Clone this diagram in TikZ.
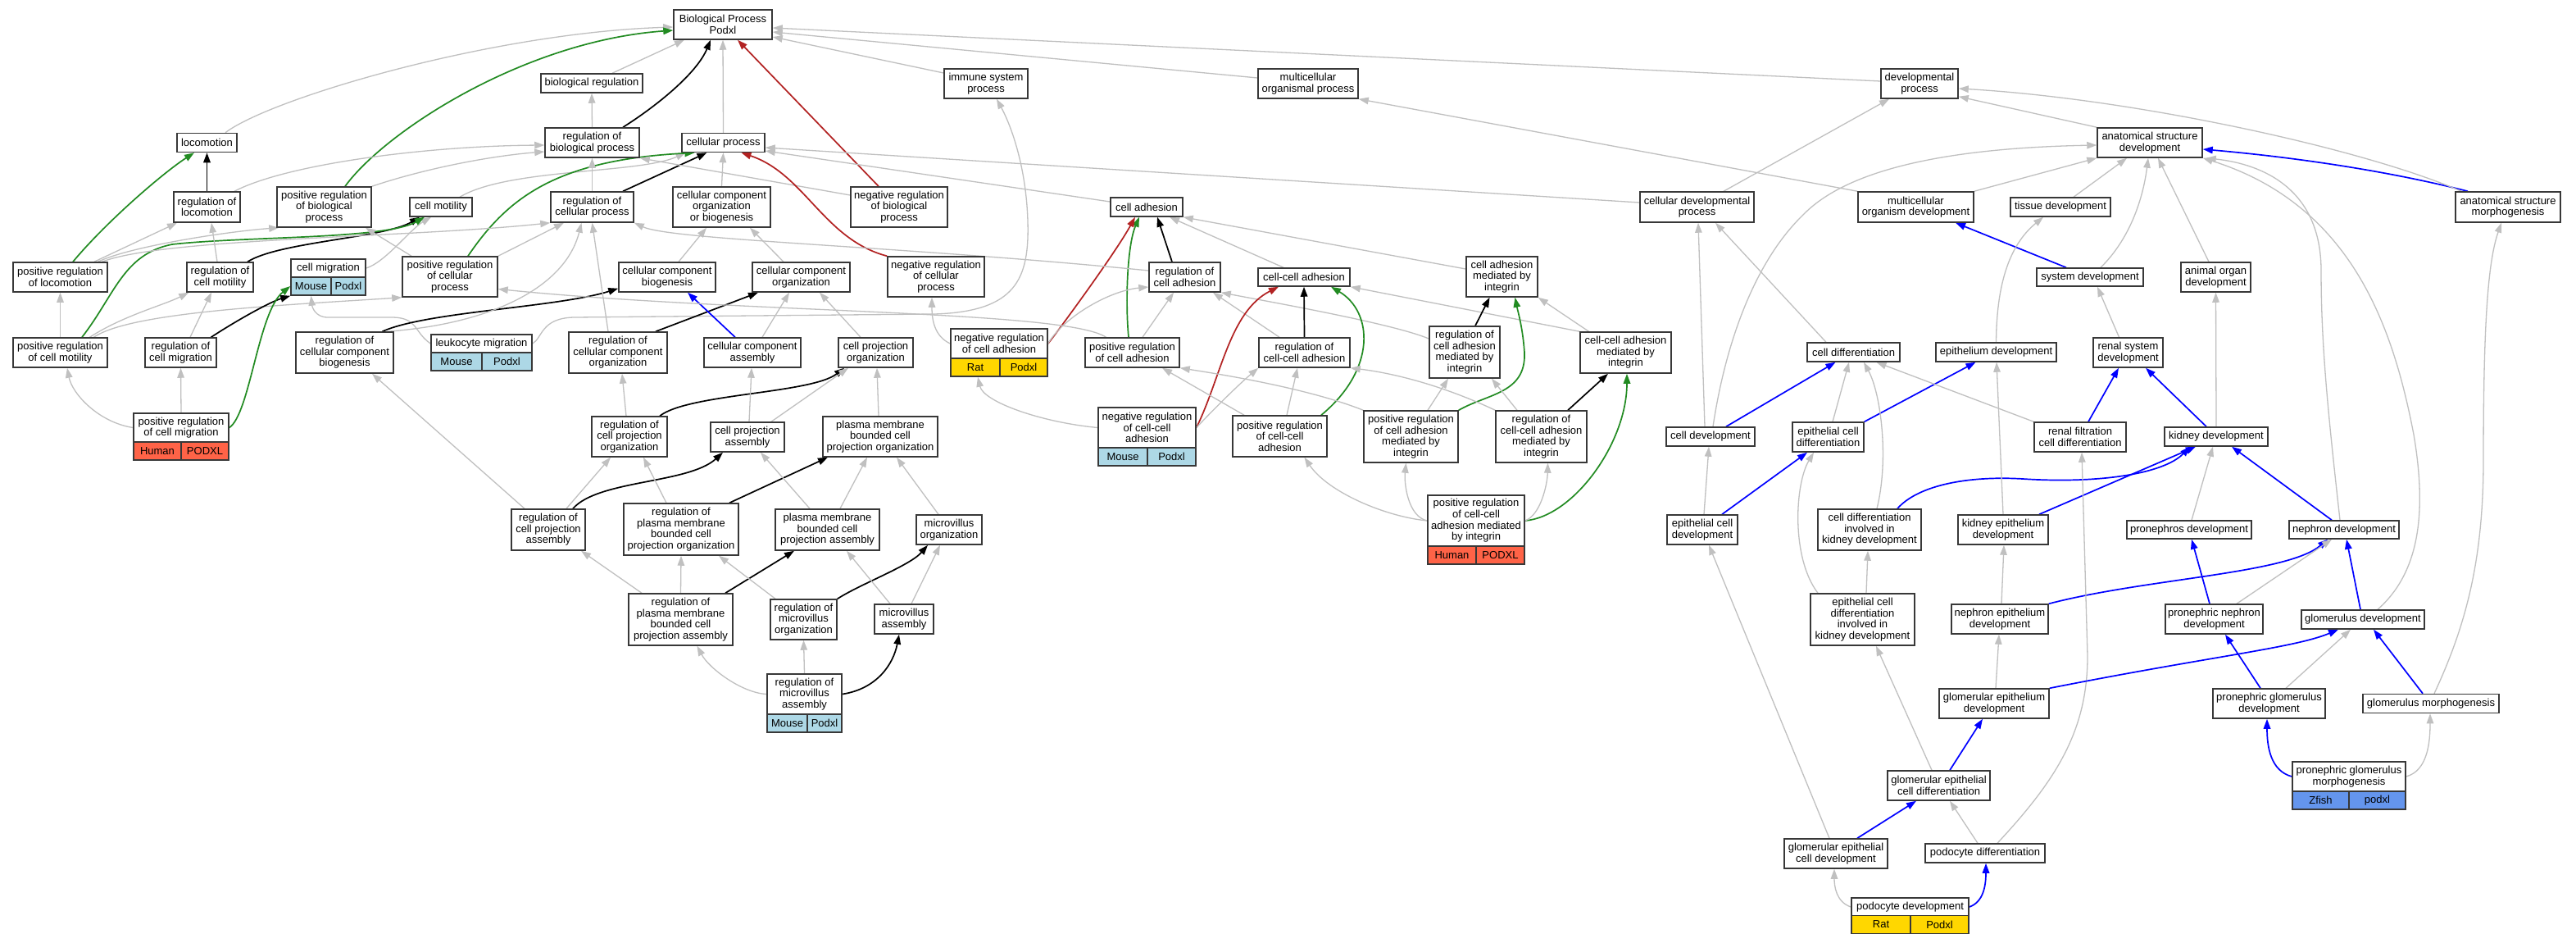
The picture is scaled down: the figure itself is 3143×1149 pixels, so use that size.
\documentclass[tikz,border=0pt]{standalone}
\usepackage{fontspec}
\setmainfont{Liberation Sans}
\usetikzlibrary{arrows.meta,backgrounds}
\newcommand{\gofont}{\fontsize{13pt}{13.6pt}\selectfont}
\definecolor{lg}{RGB}{192,192,192}
\definecolor{fg}{RGB}{34,139,34}
\definecolor{fr}{RGB}{178,34,34}
\definecolor{mouse}{RGB}{173,216,230}
\definecolor{rat}{RGB}{255,215,0}
\definecolor{human}{RGB}{255,99,71}
\definecolor{zfish}{RGB}{100,149,237}
\tikzset{
 box/.style={draw=black!78, line width=1.5pt, fill=white, align=center, inner sep=0pt, font=\gofont},
 sp/.style={box, minimum height=22pt},
 tipa/.style={-{Triangle[length=12pt,width=8.5pt]}},
 ga/.style={draw=lg, line width=1.3pt, tipa},
 ka/.style={draw=black, line width=1.7pt, tipa},
 gn/.style={draw=fg, line width=1.7pt, tipa},
 rd/.style={draw=fr, line width=1.7pt, tipa},
 bu/.style={draw=blue, line width=1.7pt, tipa}
}
\begin{document}
\begin{tikzpicture}[x=1pt,y=-1pt]
\useasboundingbox (0,0) rectangle (3143,1149);
% ---------- nodes ----------
\node[box,minimum width=120pt,minimum height=36pt] (BP) at (882,30) {Biological Process\\Podxl};
\node[box,minimum width=124pt,minimum height=23pt] (bioreg) at (722,101.5) {biological regulation};
\node[box,minimum width=102pt,minimum height=36pt] (immune) at (1203,102) {immune system\\process};
\node[box,minimum width=122pt,minimum height=36pt] (mcop) at (1596,102) {multicellular\\organismal process};
\node[box,minimum width=94pt,minimum height=36pt] (devproc) at (2342,102) {developmental\\process};
\node[box,minimum width=73pt,minimum height=23pt] (loco) at (252.5,174) {locomotion};
\node[box,minimum width=115pt,minimum height=36pt] (regbp) at (722.5,174) {regulation of\\biological process};
\node[box,minimum width=101pt,minimum height=23pt] (cellproc) at (882.5,174) {cellular process};
\node[box,minimum width=128pt,minimum height=36pt] (asd) at (2623,174) {anatomical structure\\development};
\node[box,minimum width=81pt,minimum height=37pt] (regloco) at (252.5,252.5) {regulation of\\locomotion};
\node[box,minimum width=115pt,minimum height=49pt] (posregbp) at (395.5,252.5) {positive regulation\\of biological\\process};
\node[box,minimum width=76pt,minimum height=23pt] (cellmot) at (538,252.5) {cell motility};
\node[box,minimum width=101pt,minimum height=37pt] (regcp) at (722.5,252.5) {regulation of\\cellular process};
\node[box,minimum width=119pt,minimum height=49pt] (ccob) at (880.5,252.5) {cellular component\\organization\\or biogenesis};
\node[box,minimum width=118pt,minimum height=49pt] (negregbp) at (1097,252.5) {negative regulation\\of biological\\process};
\node[box,minimum width=88pt,minimum height=23pt] (celladh) at (1399,252.5) {cell adhesion};
\node[box,minimum width=139pt,minimum height=37pt] (cdp) at (2070.5,252.5) {cellular developmental\\process};
\node[box,minimum width=141pt,minimum height=37pt] (mod) at (2337.5,252.5) {multicellular\\organism development};
\node[box,minimum width=122pt,minimum height=23pt] (tissue) at (2514,252.5) {tissue development};
\node[box,minimum width=128pt,minimum height=37pt] (asm) at (3060,252.5) {anatomical structure\\morphogenesis};
\node[box,minimum width=115pt,minimum height=36pt] (posregloco) at (73.5,338) {positive regulation\\of locomotion};
\node[box,minimum width=81pt,minimum height=36pt] (regcellmot) at (268.5,338) {regulation of\\cell motility};
\node[box,minimum width=91pt,minimum height=22pt] (cellmig) at (400.5,327) {cell migration};
\node[sp,fill=mouse,minimum width=49pt] (cellmig-a) at (379.5,349) {Mouse};
\node[sp,fill=mouse,minimum width=42pt] (cellmig-b) at (425,349) {Podxl};
\node[box,minimum width=116pt,minimum height=49pt] (posregcp) at (549,337.5) {positive regulation\\of cellular\\process};
\node[box,minimum width=118pt,minimum height=36pt] (ccb) at (814,338) {cellular component\\biogenesis};
\node[box,minimum width=119pt,minimum height=36pt] (cco) at (977.5,338) {cellular component\\organization};
\node[box,minimum width=118pt,minimum height=49pt] (negregcp) at (1142,337.5) {negative regulation\\of cellular\\process};
\node[box,minimum width=87pt,minimum height=36pt] (regcelladh) at (1445.5,338) {regulation of\\cell adhesion};
\node[box,minimum width=112pt,minimum height=22pt] (ccadh) at (1591,338) {cell-cell adhesion};
\node[box,minimum width=87pt,minimum height=49pt] (camint) at (1832.5,337.5) {cell adhesion\\mediated by\\integrin};
\node[box,minimum width=130pt,minimum height=22pt] (sysdev) at (2550,338) {system development};
\node[box,minimum width=85pt,minimum height=36pt] (aod) at (2703.5,338) {animal organ\\development};
\node[box,minimum width=115pt,minimum height=36pt] (posregcellmot) at (73.5,430) {positive regulation\\of cell motility};
\node[box,minimum width=87pt,minimum height=36pt] (regcellmig) at (220.5,430) {regulation of\\cell migration};
\node[box,minimum width=119pt,minimum height=50pt] (regccb) at (420.5,430) {regulation of\\cellular component\\biogenesis};
\node[box,minimum width=123pt,minimum height=22pt] (leuk) at (587.5,419) {leukocyte migration};
\node[sp,fill=mouse,minimum width=62pt] (leuk-a) at (557,441) {Mouse};
\node[sp,fill=mouse,minimum width=61pt] (leuk-b) at (618.5,441) {Podxl};
\node[box,minimum width=120pt,minimum height=50pt] (regcco) at (754,430) {regulation of\\cellular component\\organization};
\node[box,minimum width=118pt,minimum height=36pt] (cca) at (918,430) {cellular component\\assembly};
\node[box,minimum width=91pt,minimum height=36pt] (cpo) at (1068.5,430) {cell projection\\organization};
\node[box,minimum width=118pt,minimum height=36pt] (negregcelladh) at (1219,419) {negative regulation\\of cell adhesion};
\node[sp,fill=rat,minimum width=60pt] (negregcelladh-a) at (1190,448) {Rat};
\node[sp,fill=rat,minimum width=58pt] (negregcelladh-b) at (1249,448) {Podxl};
\node[box,minimum width=115pt,minimum height=36pt] (posregcelladh) at (1381.5,430) {positive regulation\\of cell adhesion};
\node[box,minimum width=111pt,minimum height=36pt] (regccadh) at (1591.5,430) {regulation of\\cell-cell adhesion};
\node[box,minimum width=86pt,minimum height=63pt] (regcamint) at (1787,429.5) {regulation of\\cell adhesion\\mediated by\\integrin};
\node[box,minimum width=111pt,minimum height=50pt] (ccamint) at (1983.5,430) {cell-cell adhesion\\mediated by\\integrin};
\node[box,minimum width=113pt,minimum height=23pt] (celldiff) at (2261.5,429.5) {cell differentiation};
\node[box,minimum width=147pt,minimum height=23pt] (epidev) at (2435.5,429.5) {epithelium development};
\node[box,minimum width=85pt,minimum height=36pt] (renalsys) at (2596.5,430) {renal system\\development};
\node[box,minimum width=116pt,minimum height=35pt] (posregcellmig) at (221,521.5) {positive regulation\\of cell migration};
\node[sp,fill=human,minimum width=58pt] (posregcellmig-a) at (192,550) {Human};
\node[sp,fill=human,minimum width=58pt] (posregcellmig-b) at (250,550) {PODXL};
\node[box,minimum width=92pt,minimum height=49pt] (regcpo) at (768,532.5) {regulation of\\cell projection\\organization};
\node[box,minimum width=90pt,minimum height=36pt] (cpa) at (912,533) {cell projection\\assembly};
\node[box,minimum width=140pt,minimum height=49pt] (pmbcpo) at (1074,532.5) {plasma membrane\\bounded cell\\projection organization};
\node[box,minimum width=119pt,minimum height=49pt] (negregccadh) at (1399.5,521.5) {negative regulation\\of cell-cell\\adhesion};
\node[sp,fill=mouse,minimum width=60pt] (negregccadh-a) at (1370,557) {Mouse};
\node[sp,fill=mouse,minimum width=59pt] (negregccadh-b) at (1429.5,557) {Podxl};
\node[box,minimum width=115pt,minimum height=50pt] (posregccadh) at (1561.5,532) {positive regulation\\of cell-cell\\adhesion};
\node[box,minimum width=115pt,minimum height=63pt] (posregcamint) at (1721.5,532.5) {positive regulation\\of cell adhesion\\mediated by\\integrin};
\node[box,minimum width=111pt,minimum height=63pt] (regccamint) at (1880.5,532.5) {regulation of\\cell-cell adhesion\\mediated by\\integrin};
\node[box,minimum width=108pt,minimum height=23pt] (celldev) at (2087,532.5) {cell development};
\node[box,minimum width=87pt,minimum height=36pt] (epicelldiff) at (2230.5,533) {epithelial cell\\differentiation};
\node[box,minimum width=112pt,minimum height=36pt] (renalfilt) at (2538,533) {renal filtration\\cell differentiation};
\node[box,minimum width=126pt,minimum height=23pt] (kidney) at (2704,532.5) {kidney development};
\node[box,minimum width=90pt,minimum height=50pt] (regcpa) at (669,646) {regulation of\\cell projection\\assembly};
\node[box,minimum width=140pt,minimum height=63pt] (regpmbcpo) at (831,645.5) {regulation of\\plasma membrane\\bounded cell\\projection organization};
\node[box,minimum width=127pt,minimum height=50pt] (pmbcpa) at (1009.5,646) {plasma membrane\\bounded cell\\projection assembly};
\node[box,minimum width=80pt,minimum height=36pt] (mvo) at (1158,646) {microvillus\\organization};
\node[box,minimum width=118pt,minimum height=62pt] (posregccamint) at (1801,635) {positive regulation\\of cell-cell\\adhesion mediated\\by integrin};
\node[sp,fill=human,minimum width=59pt] (posregccamint-a) at (1771.5,677) {Human};
\node[sp,fill=human,minimum width=59pt] (posregccamint-b) at (1830.5,677) {PODXL};
\node[box,minimum width=86pt,minimum height=36pt] (epicelldev) at (2077,646) {epithelial cell\\development};
\node[box,minimum width=126pt,minimum height=50pt] (celldiffkid) at (2281,646) {cell differentiation\\involved in\\kidney development};
\node[box,minimum width=110pt,minimum height=36pt] (kidepi) at (2444,646) {kidney epithelium\\development};
\node[box,minimum width=152pt,minimum height=22pt] (proneph) at (2671,646) {pronephros development};
\node[box,minimum width=134pt,minimum height=22pt] (nephron) at (2860,646) {nephron development};
\node[box,minimum width=127pt,minimum height=63pt] (regpmbcpa) at (830.5,755.5) {regulation of\\plasma membrane\\bounded cell\\projection assembly};
\node[box,minimum width=81pt,minimum height=49pt] (regmvo) at (980.5,755.5) {regulation of\\microvillus\\organization};
\node[box,minimum width=72pt,minimum height=36pt] (mva) at (1103,755) {microvillus\\assembly};
\node[box,minimum width=127pt,minimum height=63pt] (epidiffkid) at (2272.5,755.5) {epithelial cell\\differentiation\\involved in\\kidney development};
\node[box,minimum width=118pt,minimum height=36pt] (nephepi) at (2440,755) {nephron epithelium\\development};
\node[box,minimum width=119pt,minimum height=36pt] (pronephnephron) at (2701.5,755) {pronephric nephron\\development};
\node[box,minimum width=150pt,minimum height=23pt] (glomdev) at (2883,755.5) {glomerulus development};
\node[box,minimum width=91pt,minimum height=49pt] (regmva) at (981.5,846.5) {regulation of\\microvillus\\assembly};
\node[sp,fill=mouse,minimum width=49pt] (regmva-a) at (960.5,882) {Mouse};
\node[sp,fill=mouse,minimum width=42pt] (regmva-b) at (1006,882) {Podxl};
\node[box,minimum width=134pt,minimum height=36pt] (glomepi) at (2433,858) {glomerular epithelium\\development};
\node[box,minimum width=137pt,minimum height=36pt] (pronglom) at (2768.5,858) {pronephric glomerulus\\development};
\node[box,minimum width=166pt,minimum height=23pt] (glommorph) at (2966,858) {glomerulus morphogenesis};
\node[box,minimum width=125pt,minimum height=36pt] (glomepicelldiff) at (2365.5,958) {glomerular epithelial\\cell differentiation};
\node[box,minimum width=138pt,minimum height=36pt] (pronglommorph) at (2866,947) {pronephric glomerulus\\morphogenesis};
\node[sp,fill=zfish,minimum width=69pt] (pronglommorph-a) at (2831.5,976) {Zfish};
\node[sp,fill=zfish,minimum width=69pt] (pronglommorph-b) at (2900.5,976) {podxl};
\node[box,minimum width=126pt,minimum height=36pt] (glomepicelldev) at (2240,1041) {glomerular epithelial\\cell development};
\node[box,minimum width=146pt,minimum height=23pt] (pododiff) at (2422,1040.5) {podocyte differentiation};
\node[box,minimum width=143pt,minimum height=22pt] (pododev) at (2330.5,1106) {podocyte development};
\node[sp,fill=rat,minimum width=72pt] (pododev-a) at (2295,1127.5) {Rat};
\node[sp,fill=rat,minimum width=71pt] (pododev-b) at (2366.5,1127.5) {Podxl};
% ---------- edges ----------
\begin{pgfonlayer}{background}
\fill[white] (0,0) rectangle (3143,1149);
% top
\draw[ga] ([xshift=22.5pt]loco.north) .. controls (330,120) and (600,40) .. ([yshift=-3pt]BP.west);
\draw[gn] ([xshift=25.5pt]posregbp.north) .. controls (470,160) and (640,50) .. ([yshift=-7pt]BP.west);
\draw[ga] ([xshift=25pt]bioreg.north) -- ([xshift=-47pt]BP.south);
\draw[ka] ([xshift=37.5pt]regbp.north) .. controls (800,130) and (850,90) .. ([xshift=-15pt]BP.south);
\draw[ga] (cellproc.north) -- (BP.south);
\draw[rd] ([xshift=-25pt]negregbp.north) -- ([xshift=18pt]BP.south);
\draw[ga] ([yshift=13pt]immune.west) -- ([yshift=-15pt]BP.east);
\draw[ga] ([yshift=7pt]mcop.west) -- ([yshift=-9pt]BP.east);
\draw[ga] ([yshift=3pt]devproc.west) -- ([yshift=-4pt]BP.east);
\draw[ga] (regbp.north) -- (bioreg.south);
\draw[ka] (regloco.north) -- (loco.south);
\draw[gn] ([xshift=15.5pt]posregloco.north) .. controls (130,270) and (200,210) .. ([xshift=-15.5pt]loco.south);
\draw[ga] ([xshift=33.5pt]regloco.north) .. controls (350,200) and (520,178) .. ([yshift=-3pt]regbp.west);
\draw[ga] (posregbp.north east) .. controls (520,205) and (600,190) .. ([yshift=-11pt]regbp.west);
\draw[ga] ([xshift=23pt]cellmot.north) .. controls (620,205) and (780,212) .. ([xshift=-46pt]cellproc.south);
\draw[gn] ([xshift=22pt]posregcp.north) .. controls (620,240) and (680,195) .. ([xshift=-35pt]cellproc.south);
\draw[ka] ([xshift=37.5pt]regcp.north) -- ([xshift=-20pt]cellproc.south);
\draw[ga] (regcp.north) -- (regbp.south);
\draw[ga] ([yshift=14.5pt]negregbp.west) -- (regbp.south east);
\draw[ga] (ccob.north) -- (cellproc.south);
\draw[rd] (negregcp.north west) .. controls (1005,292) and (982,212) .. ([xshift=22pt]cellproc.south);
\draw[ga] ([yshift=6.5pt]celladh.west) -- ([yshift=-10pt]cellproc.east);
\draw[ga] ([yshift=5.5pt]cdp.west) -- ([yshift=-6pt]cellproc.east);
% left block
\draw[ga] (cellmig.east) .. controls (470,320) and (500,280) .. ([xshift=-12pt]cellmot.south);
\draw[ka] ([xshift=33.5pt]regcellmot.north) .. controls (340,295) and (470,290) .. ([xshift=-26pt]cellmot.south);
\draw[gn] ([xshift=26.5pt]posregcellmot.north) .. controls (140,360) and (150,310) .. (210,298) .. controls (300,288) and (470,292) .. ([xshift=-20pt]cellmot.south);
\draw[ga] ([xshift=41.5pt]posregloco.north) -- ([xshift=-36.5pt]regloco.south);
\draw[ga] ([xshift=46pt]posregloco.north) .. controls (160,300) and (280,282) .. ([xshift=3pt]posregbp.south west);
\draw[ga] ([xshift=51pt]posregloco.north) .. controls (200,290) and (500,290) .. (regcp.south west);
\draw[ga] ([xshift=-3.5pt]regcellmot.north) -- ([xshift=5.5pt]regloco.south);
\draw[ga] ([xshift=-47pt]posregcp.north) -- ([xshift=50.5pt]posregbp.south);
\draw[ga] (posregcp.north east) -- ([xshift=-34.5pt]regcp.south);
\draw[ga] (posregcellmot.north) -- (posregloco.south);
\draw[ga] ([xshift=36pt]posregcellmot.north) .. controls (150,385) and (200,372) .. ([xshift=3pt]regcellmot.south west);
\draw[ga] ([xshift=41pt]posregcellmot.north) .. controls (160,380) and (350,372) .. (posregcp.south west);
\draw[ga] ([xshift=11.5pt]regcellmig.north) -- ([xshift=-10.5pt]regcellmot.south);
\draw[ka] ([xshift=37pt]regcellmig.north) .. controls (290,390) and (330,368) .. (cellmig-a.south west);
\draw[ga] (posregcellmig.west) .. controls (120,515) and (88,480) .. ([xshift=8.5pt]posregcellmot.south);
\draw[ga] (posregcellmig.north) -- (regcellmig.south);
\draw[gn] (posregcellmig.east) .. controls (305,505) and (315,380) .. (cellmig-a.west);
\draw[ga] (leuk.west) .. controls (505,405) and (510,388) .. (480,387) -- (400,387) .. controls (385,387) and (381,375) .. (cellmig-a.south);
\draw[ga] (leuk.east) .. controls (662,412) and (660,388) .. (700,387) -- (1140,383) .. controls (1240,380) and (1256,340) .. (1254,270) .. controls (1252,200) and (1232,150) .. ([xshift=13pt]immune.south);
% cellular component block
\draw[ka] ([xshift=46pt]regccb.north) .. controls (520,380) and (680,375) .. ([yshift=5pt]ccb.south west);
\draw[ga] ([xshift=52pt]regccb.north) .. controls (600,395) and (690,350) .. ([xshift=-13pt]regcp.south);
\draw[ga] ([xshift=-12pt]regcco.north) -- (regcp.south);
\draw[ka] ([xshift=46pt]regcco.north) -- ([xshift=-52.5pt]cco.south);
\draw[ga] ([xshift=14pt]ccb.north) -- ([xshift=-18.5pt]ccob.south);
\draw[ga] ([xshift=-21.5pt]cco.north) -- ([xshift=34.5pt]ccob.south);
\draw[bu] ([xshift=-21pt]cca.north) -- ([xshift=25pt]ccb.south);
\draw[ga] ([xshift=12pt]cca.north) -- ([xshift=-14.5pt]cco.south);
\draw[ga] ([xshift=-18.5pt]cpo.north) -- ([xshift=22.5pt]cco.south);
\draw[ga] ([xshift=-4pt]regcpo.north) -- ([xshift=5pt]regcco.south);
\draw[ka] ([xshift=37pt]regcpo.north) .. controls (840,480) and (990,480) .. ([xshift=-38.5pt]cpo.south);
\draw[ga] ([xshift=22pt]regcpa.north) -- ([xshift=-23pt]regcpo.south);
\draw[ka] ([xshift=30pt]regcpa.north) .. controls (730,585) and (840,590) .. ([xshift=-30pt]cpa.south);
\draw[ga] ([xshift=-29pt]regcpa.north) -- ([xshift=33.5pt]regccb.south);
\draw[ga] ([xshift=2pt]cpa.north) -- ([xshift=-1pt]cca.south);
\draw[ga] ([xshift=29pt]cpa.north) -- ([xshift=-33.5pt]cpo.south);
\draw[ga] ([xshift=-2pt]pmbcpo.north) -- ([xshift=1.5pt]cpo.south);
\draw[ga] ([xshift=-18pt]regpmbcpo.north) -- ([xshift=17pt]regcpo.south);
\draw[ka] ([xshift=59pt]regpmbcpo.north) -- ([xshift=-64pt]pmbcpo.south);
\draw[ga] ([xshift=-21.5pt]pmbcpa.north) -- ([xshift=16pt]cpa.south);
\draw[ga] ([xshift=15.5pt]pmbcpa.north) -- ([xshift=-16pt]pmbcpo.south);
\draw[ga] ([xshift=-13pt]mvo.north) -- ([xshift=20pt]pmbcpo.south);
\draw[ga] (regpmbcpa.north) -- (regpmbcpo.south);
\draw[ka] ([xshift=54.5pt]regpmbcpa.north) -- ([xshift=-40.5pt]pmbcpa.south);
\draw[ga] ([xshift=-47.5pt]regpmbcpa.north) -- ([xshift=40pt]regcpa.south);
\draw[ga] ([xshift=-34.5pt]regmvo.north) -- ([xshift=46pt]regpmbcpo.south);
\draw[ka] (regmvo.north east) .. controls (1050,712) and (1110,690) .. ([xshift=-26pt]mvo.south);
\draw[ga] ([xshift=-17pt]mva.north) -- ([xshift=23.5pt]pmbcpa.south);
\draw[ga] ([xshift=9pt]mva.north) -- ([xshift=-11pt]mvo.south);
\draw[ga] (regmva.west) .. controls (905,845) and (865,815) .. ([xshift=20pt]regpmbcpa.south);
\draw[ga] (regmva.north) -- (regmvo.south);
\draw[ka] (regmva.east) .. controls (1070,840) and (1090,810) .. ([xshift=-6pt]mva.south);
% adhesion block
\draw[ka] ([xshift=-15.5pt]regcelladh.north) -- ([xshift=13pt]celladh.south);
\draw[gn] ([xshift=-4.5pt]posregcelladh.north) .. controls (1373,370) and (1375,300) .. ([xshift=-9pt]celladh.south);
\draw[rd] (negregcelladh.east) .. controls (1290,405) and (1360,310) .. ([xshift=-14pt]celladh.south);
\draw[ga] ([xshift=-25pt]ccadh.north) -- ([xshift=28pt]celladh.south);
\draw[ga] ([yshift=9.5pt]camint.west) -- (celladh.south east);
\draw[ga] ([yshift=8pt]regcelladh.west) .. controls (1100,300) and (820,293) .. (regcp.south east);
\draw[ga] (negregcelladh.east) .. controls (1295,390) and (1350,355) .. ([yshift=-12pt]regcelladh.west);
\draw[ga] (negregcelladh.west) .. controls (1140,410) and (1137,390) .. ([xshift=-5pt]negregcp.south);
\draw[ga] ([xshift=-32pt]posregcelladh.north) .. controls (1300,378) and (900,382) .. ([yshift=-15pt]posregcp.east);
\draw[ga] ([xshift=12.5pt]posregcelladh.north) -- ([xshift=-13.5pt]regcelladh.south);
\draw[ga] ([xshift=-30.5pt]regccadh.north) -- ([xshift=34.5pt]regcelladh.south);
\draw[ga] ([yshift=16.5pt]regcamint.west) .. controls (1700,395) and (1560,370) .. (regcelladh.south east);
\draw[ka] (regccadh.north) -- (ccadh.south);
\draw[rd] (negregccadh.east) .. controls (1490,460) and (1500,380) .. ([xshift=-31pt]ccadh.south);
\draw[gn] ([xshift=50.5pt]posregccadh.north) .. controls (1680,450) and (1675,380) .. ([xshift=33pt]ccadh.south);
\draw[ga] (ccamint.north west) -- (ccadh.south east);
\draw[ga] ([xshift=-45pt]ccamint.north) -- (camint.south east);
\draw[ka] ([xshift=13pt]regcamint.north) -- ([xshift=-15pt]camint.south);
\draw[gn] (posregcamint.north east) .. controls (1815,480) and (1862,480) .. (1860,430) .. controls (1858,400) and (1852,380) .. ([xshift=16pt]camint.south);
\draw[ka] ([xshift=32.5pt]regccamint.north) -- ([xshift=-21.5pt]ccamint.south);
\draw[gn] (posregccamint.east) .. controls (1920,630) and (1985,540) .. ([xshift=1.5pt]ccamint.south);
\draw[ga] ([xshift=-29.5pt]regccamint.north) -- ([xshift=33pt]regcamint.south);
\draw[ga] (regccamint.north west) .. controls (1760,470) and (1700,455) .. (regccadh.south east);
\draw[ga] ([xshift=20.5pt]posregcamint.north) -- ([xshift=-20pt]regcamint.south);
\draw[ga] (posregcamint.north west) .. controls (1600,475) and (1500,458) .. (posregcelladh.south east);
\draw[ga] (posregccamint.west) .. controls (1718,630) and (1713,590) .. ([xshift=-6pt]posregcamint.south);
\draw[ga] (posregccamint.east) .. controls (1880,628) and (1888,590) .. ([xshift=8pt]regccamint.south);
\draw[ga] (posregccamint.west) .. controls (1690,630) and (1620,600) .. ([xshift=30pt]posregccadh.south);
\draw[ga] ([xshift=8.5pt]posregccadh.north) -- ([xshift=-8.5pt]regccadh.south);
\draw[ga] ([xshift=-43.5pt]posregccadh.north) -- ([xshift=36.5pt]posregcelladh.south);
\draw[ga] (negregccadh.west) .. controls (1270,515) and (1200,490) .. ([xshift=3pt]negregcelladh-a.south);
\draw[ga] (negregccadh.east) .. controls (1475,505) and (1510,470) .. (regccadh.south west);
% developmental block
\draw[ga] ([xshift=32.5pt]cdp.north) -- ([xshift=-37pt]devproc.south);
\draw[ga] (mod.north west) -- (mcop.south east);
\draw[ga] ([xshift=-7pt]celldev.north) -- ([xshift=1.5pt]cdp.south);
\draw[ga] ([xshift=3pt]celldev.north) .. controls (2105,420) and (2140,320) .. (2200,262) .. controls (2260,200) and (2400,180) .. ([yshift=-3pt]asd.west);
\draw[ga] ([xshift=-33.5pt]celldiff.north) -- ([xshift=22.5pt]cdp.south);
\draw[ga] (mod.north east) -- (asd.south west);
\draw[ga] ([xshift=16pt]tissue.north) -- ([xshift=-28pt]asd.south);
\draw[ga] ([xshift=13pt]sysdev.north) .. controls (2600,290) and (2615,240) .. ([xshift=-2pt]asd.south);
\draw[bu] ([xshift=-29pt]sysdev.north) -- ([xshift=48.5pt]mod.south);
\draw[ga] ([xshift=-8.5pt]aod.north) -- ([xshift=10pt]asd.south);
\draw[bu] ([xshift=-49pt]asm.north) .. controls (2900,205) and (2780,190) .. ([yshift=-8pt]asd.east);
\draw[ga] ([xshift=-57pt]asm.north) .. controls (2880,180) and (2600,120) .. ([yshift=-6pt]devproc.east);
\draw[ga] (asd.north west) -- ([yshift=3pt]devproc.south east);
\draw[ga] ([xshift=-5pt]nephron.north) .. controls (2840,500) and (2832,420) .. (2832,330) .. controls (2832,230) and (2760,200) .. ([xshift=4pt]asd.south east);
\draw[ga] ([xshift=18pt]glomdev.north) .. controls (2950,700) and (2962,630) .. (2945,530) .. controls (2920,400) and (2870,250) .. (asd.south east);
\draw[ga] ([xshift=4pt]glommorph.north) .. controls (3010,760) and (3030,680) .. (3030,560) .. controls (3030,400) and (3035,320) .. ([xshift=-8pt]asm.south);
\draw[ga] (epidev.north) .. controls (2436,350) and (2450,300) .. ([xshift=-21pt]tissue.south);
\draw[ga] ([xshift=-11pt]renalsys.north) -- ([xshift=9pt]sysdev.south);
\draw[ga] (kidney.north) -- (aod.south);
\draw[bu] ([xshift=19pt]celldev.north) -- ([xshift=-22pt]celldiff.south);
\draw[ga] ([xshift=5.5pt]epicelldiff.north) -- ([xshift=-5.5pt]celldiff.south);
\draw[bu] (epicelldiff.north east) -- ([xshift=-25pt]epidev.south);
\draw[ga] ([xshift=9pt]celldiffkid.north) .. controls (2305,560) and (2295,480) .. ([xshift=12.5pt]celldiff.south);
\draw[ga] (renalfilt.north west) -- ([xshift=28pt]celldiff.south);
\draw[ga] ([xshift=2pt]epicelldev.north) -- ([xshift=-2pt]celldev.south);
\draw[bu] ([xshift=24pt]epicelldev.north) -- ([xshift=-25.5pt]epicelldiff.south);
\draw[bu] ([xshift=34pt]celldiffkid.north) .. controls (2340,592) and (2400,580) .. (2468,584) .. controls (2560,590) and (2640,578) .. ([xshift=-32pt]kidney.south);
\draw[ga] ([xshift=-54.5pt]epidiffkid.north) .. controls (2185,680) and (2190,590) .. ([xshift=-17.5pt]epicelldiff.south);
\draw[ga] ([xshift=4.5pt]epidiffkid.north) -- ([xshift=-2pt]celldiffkid.south);
\draw[ga] (kidepi.north) -- ([xshift=0.5pt]epidev.south);
\draw[bu] ([xshift=44pt]kidepi.north) -- ([xshift=-25pt]kidney.south);
\draw[bu] ([xshift=10pt]renalfilt.north) -- ([xshift=-11.5pt]renalsys.south);
\draw[bu] ([xshift=-12pt]kidney.north) -- ([xshift=21.5pt]renalsys.south);
\draw[ga] ([xshift=3pt]proneph.north) -- ([xshift=-4pt]kidney.south);
\draw[bu] ([xshift=-15pt]nephron.north) -- ([xshift=19pt]kidney.south);
\draw[ga] ([xshift=2pt]nephepi.north) -- ([xshift=1pt]kidepi.south);
\draw[bu] (nephepi.north east) .. controls (2620,705) and (2790,700) .. ([xshift=-20pt]nephron.south);
\draw[bu] ([xshift=-5.5pt]pronephnephron.north) -- ([xshift=3pt]proneph.south);
\draw[ga] ([xshift=27.5pt]pronephnephron.north) -- ([xshift=-15pt]nephron.south);
\draw[bu] ([xshift=-3pt]glomdev.north) -- ([xshift=3pt]nephron.south);
\draw[ga] ([xshift=15pt]pododiff.north) .. controls (2510,950) and (2547,890) .. (2547,800) -- ([xshift=2pt]renalfilt.south);
\draw[ga] ([xshift=2pt]glomepi.north) -- ([xshift=-1pt]nephepi.south);
\draw[bu] (glomepi.north east) .. controls (2700,800) and (2800,790) .. ([xshift=-30pt]glomdev.south);
\draw[bu] ([xshift=-10.5pt]pronglom.north) -- ([xshift=13.5pt]pronephnephron.south);
\draw[ga] ([xshift=20.5pt]pronglom.north) -- ([xshift=-15pt]glomdev.south);
\draw[bu] ([xshift=-10pt]glommorph.north) -- ([xshift=13pt]glomdev.south);
\draw[ga] ([xshift=-8.5pt]glomepicelldiff.north) -- ([xshift=16.5pt]epidiffkid.south);
\draw[bu] ([xshift=13.5pt]glomepicelldiff.north) -- ([xshift=-14pt]glomepi.south);
\draw[bu] (pronglommorph.west) .. controls (2770,940) and (2766,910) .. ([xshift=-2.5pt]pronglom.south);
\draw[ga] (pronglommorph.east) .. controls (2962,940) and (2965,905) .. ([xshift=-1pt]glommorph.south);
\draw[bu] ([xshift=26pt]glomepicelldev.north) -- ([xshift=-27.5pt]glomepicelldiff.south);
\draw[ga] ([xshift=-8pt]glomepicelldev.north) -- ([xshift=8pt]epicelldev.south);
\draw[ga] ([xshift=-9pt]pododiff.north) -- ([xshift=13.5pt]glomepicelldiff.south);
\draw[ga] (pododev.west) .. controls (2240,1100) and (2238,1080) .. ([xshift=-2pt]glomepicelldev.south);
\draw[bu] (pododev.east) .. controls (2420,1100) and (2423,1080) .. ([xshift=1pt]pododiff.south);
\end{pgfonlayer}
\end{tikzpicture}
\end{document}
